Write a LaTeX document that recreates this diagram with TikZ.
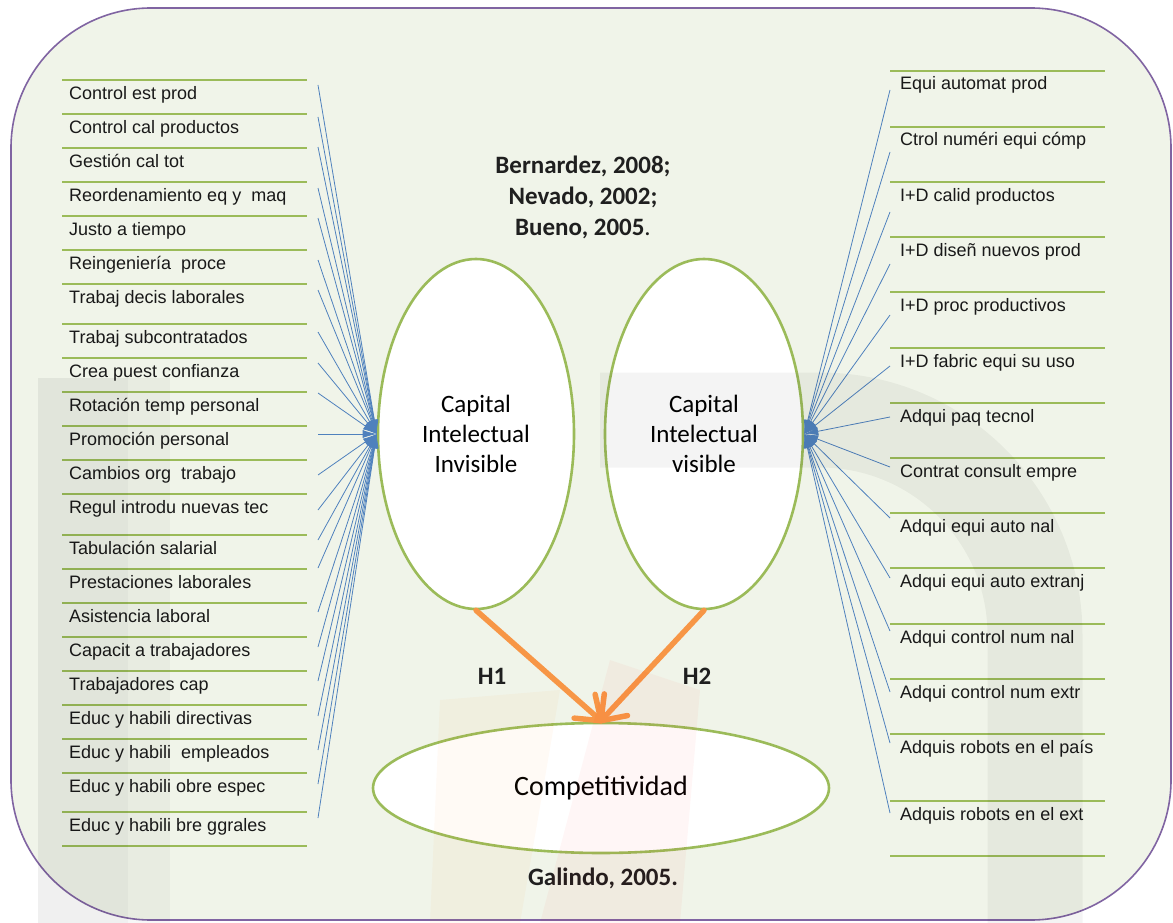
\documentclass[tikz,border=0pt]{standalone}
\usepackage{fontspec}
\setmainfont{Liberation Sans}
\newfontfamily\calib{Carlito}
\usetikzlibrary{shapes.geometric,arrows.meta,calc}
\definecolor{bordc}{HTML}{8064A2}
\definecolor{bgc}{HTML}{F0F4E9}
\definecolor{grn}{HTML}{9BBB59}
\definecolor{blu}{HTML}{4F81BD}
\definecolor{org}{HTML}{F79646}
\begin{document}
\begin{tikzpicture}[x=1pt,y=-1pt,
  gline/.style={grn, line width=2.2},
  item/.style={anchor=base west, inner sep=0, font=\fontsize{18}{20}\selectfont, text=black!90},
  blueline/.style={blu, line width=0.8, -{Latex[length=14pt,width=8pt]}},
  bubble/.style={ellipse, draw=grn, line width=2.6, fill=white, inner sep=0, align=center},
  cite/.style={font=\calib\bfseries\fontsize{25}{31}\selectfont, text=black!88, align=center},
  orarrow/.style={org, line width=5.5, line cap=round, line join=round}
]
\useasboundingbox (0,0) rectangle (1173,923);
\fill[white] (0,0) rectangle (1173,923);
\draw[bordc, line width=1.6, fill=bgc, rounded corners=140] (11,8) rectangle (1171,920);

% left rules
\foreach \y in {80,114,148,182,216,250,284,324,358,392,426,460,494,535,569,603,637,671,705,739,773,812,846}
  \draw[gline] (62,\y) -- (307,\y);
% right rules
\foreach \y in {71,127,182,237,292,348,403,458,513,568,624,679,734,801,856}
  \draw[gline] (890,\y) -- (1105,\y);

% ellipses
\node[bubble, minimum width=196, minimum height=350, font=\calib\fontsize{25}{30}\selectfont] (inv) at (476,434) {Capital\\Intelectual\\Invisible};
\node[bubble, minimum width=198, minimum height=350, font=\calib\fontsize{25}{30}\selectfont] (vis) at (704,434) {Capital\\Intelectual\\visible};
\node[bubble, minimum width=456, minimum height=130, font=\calib\fontsize{28}{32}\selectfont] (comp) at (601,788) {Competitividad};

% citations
\node[cite] (c1) at (583,197) {Bernardez, 2008;\\Nevado, 2002;\\Bueno, 2005{\mdseries.}};
\node[cite, anchor=base] (h1) at (492,684) {H1};
\node[cite, anchor=base] (h2) at (697,684) {H2};
\node[cite, anchor=base] (gal) at (603,885) {Galindo, 2005.};

% left items
\foreach \n/\ly/\sy/\t in {
 1/80/85/Control est prod,
 2/114/117/Control cal productos,
 3/148/147/Gestión cal tot,
 4/182/188/Reordenamiento eq y \ maq,
 5/216/218/Justo a tiempo,
 6/250/260/Reingeniería \ proce,
 7/284/290/Trabaj decis laborales,
 8/324/332/Trabaj subcontratados,
 9/358/363/Crea puest confianza,
 10/392/393/Rotación temp personal,
 11/426/434/Promoción personal,
 12/460/475/Cambios org \ trabajo,
 13/494/510/Regul introdu nuevas tec,
 14/535/540/Tabulación salarial,
 15/569/568/Prestaciones laborales,
 16/603/612/Asistencia laboral,
 17/637/647/Capacit a trabajadores,
 18/671/681/Trabajadores cap,
 19/705/716/Educ y habili directivas,
 20/739/750/Educ y habili \ empleados,
 21/773/784/Educ y habili obre espec,
 22/812/818/Educ y habili bre ggrales}
{
  \node[item] (L\n) at (69,\ly+19.5) {\t};
  \coordinate (ls\n) at (318,\sy);
  \draw[blueline] (ls\n) -- (inv.west);
}

% right items
\foreach \n/\ly/\sy/\t in {
 1/71/90/Equi automat prod,
 2/127/152/Ctrol numéri equi cómp,
 3/182/212/I+D calid productos,
 4/237/264/I+D diseñ nuevos prod,
 5/292/315/I+D proc productivos,
 6/348/366/I+D fabric equi su uso,
 7/403/417/Adqui paq tecnol,
 8/458/467/Contrat consult empre,
 9/513/518/Adqui equi auto nal,
 10/568/578/Adqui equi auto extranj,
 11/624/631/Adqui control num nal,
 12/679/692/Adqui control num extr,
 13/734/743/Adquis robots en el país,
 14/801/813/Adquis robots en el ext}
{
  \node[item] (R\n) at (900,\ly+19) {\t};
  \coordinate (rs\n) at (890,\sy);
  \draw[blueline] (rs\n) -- (vis.east);
}

% hypotheses arrows (shaft plus open V head)
\coordinate (tip) at ($(comp.north)+(0,-1)$);
\draw[orarrow] (inv.south) -- (tip);
\draw[orarrow] ($(tip)!27pt!36:(inv.south)$) -- (tip) -- ($(tip)!27pt!-36:(inv.south)$);
\draw[orarrow] (vis.south) -- (tip);
\draw[orarrow] ($(tip)!27pt!36:(vis.south)$) -- (tip) -- ($(tip)!27pt!-36:(vis.south)$);

% faint watermark
\fill[black, opacity=0.06] (38,378) rectangle (128,923);
\fill[black, opacity=0.03] (128,378) rectangle (170,923);
\draw[black, opacity=0.045, line width=95] (600,420) -- (820,420) arc[start angle=-90, end angle=0, radius=215] -- (1035,923);
\fill[orange, opacity=0.04] (440,700) -- (560,690) -- (520,923) -- (430,923) -- cycle;
\fill[red, opacity=0.035] (610,660) -- (700,690) -- (680,923) -- (540,923) -- cycle;
\end{tikzpicture}
\end{document}
